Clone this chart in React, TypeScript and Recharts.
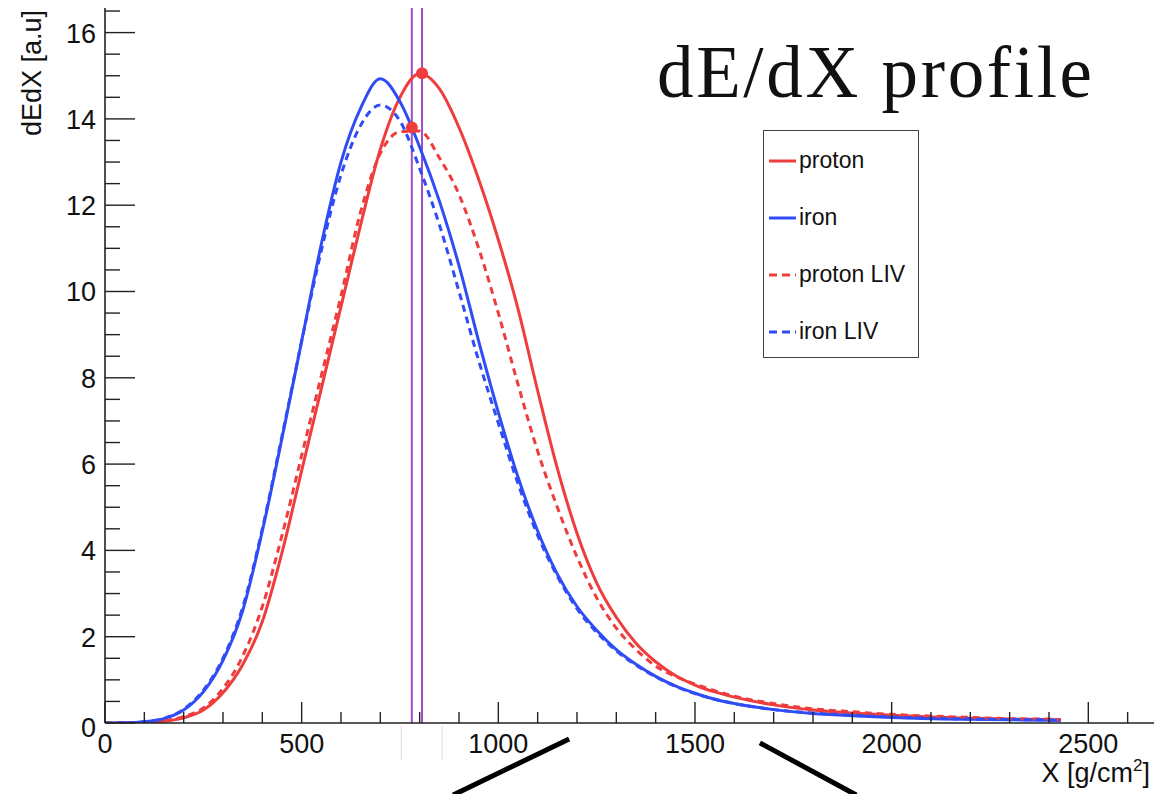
import { LineChart, Line, XAxis, YAxis, ReferenceLine, ReferenceDot, Legend } from "recharts";

// depth X [g/cm^2]
const depth = [
  0, 50, 100, 150, 200, 250, 300, 350, 400, 450, 500, 550, 600, 650, 700, 750, 800, 850, 900, 950,
  1000, 1050, 1100, 1150, 1200, 1250, 1300, 1350, 1400, 1450, 1500, 1550, 1600,
  1700, 1800, 1900, 2000, 2100, 2200, 2300, 2400, 2430,
];

const proton = [
  0, 0, 0.01, 0.04, 0.12, 0.3, 0.7, 1.35, 2.35, 3.95, 5.85, 7.75, 9.65, 11.55, 13.3, 14.5, 15.05, 14.7, 13.8, 12.6,
  11.2, 9.6, 7.7, 5.9, 4.4, 3.25, 2.45, 1.85, 1.42, 1.1, 0.88, 0.72, 0.6,
  0.42, 0.3, 0.23, 0.18, 0.14, 0.11, 0.09, 0.08, 0.07,
];

const iron = [
  0, 0.005, 0.03, 0.1, 0.3, 0.72, 1.45, 2.6, 4.45, 6.6, 8.85, 11.1, 13.0, 14.25, 14.93, 14.4, 13.35, 12.1, 10.6, 8.85,
  7.2, 5.7, 4.45, 3.45, 2.7, 2.15, 1.7, 1.36, 1.08, 0.86, 0.69, 0.55, 0.45,
  0.31, 0.22, 0.17, 0.13, 0.1, 0.085, 0.075, 0.065, 0.06,
];

const protonLIV = [
  0, 0, 0.01, 0.05, 0.15, 0.35, 0.8, 1.55, 2.7, 4.35, 6.2, 8.05, 9.9, 11.85, 13.2, 13.7, 13.72, 13.1, 12.25, 11.0,
  9.5, 7.85, 6.3, 5.0, 3.85, 2.9, 2.2, 1.7, 1.32, 1.08, 0.9, 0.75, 0.62,
  0.45, 0.33, 0.26, 0.2, 0.16, 0.13, 0.1, 0.09, 0.08,
];

const ironLIV = [
  0, 0.005, 0.03, 0.11, 0.32, 0.76, 1.5, 2.68, 4.5, 6.65, 8.85, 10.95, 12.7, 13.85, 14.32, 13.95, 12.85, 11.55, 10.0, 8.4,
  6.95, 5.55, 4.35, 3.4, 2.65, 2.1, 1.67, 1.34, 1.07, 0.85, 0.68, 0.55, 0.45,
  0.31, 0.23, 0.18, 0.14, 0.11, 0.09, 0.08, 0.07, 0.06,
];

// Xmax markers
const xmaxProton = 806;
const xmaxProtonLIV = 780;
const peakProton = 15.06;
const peakProtonLIV = 13.8;

const legendOrder = ["proton", "iron", "proton LIV", "iron LIV"];
const xTicks = Array.from({ length: 27 }, (_, i) => i * 100);
const yTicks = Array.from({ length: 34 }, (_, i) => i * 0.5);

const RED = "#ef3d3d";
const BLUE = "#2f4cf6";
const PURPLE = "#9b4dca";
const SANS = "'Liberation Sans', Arial, Helvetica, sans-serif";

const data = depth.map((x, i) => ({
  x,
  proton: proton[i],
  iron: iron[i],
  protonLIV: protonLIV[i],
  ironLIV: ironLIV[i],
}));

function XTick({ x, y, payload }: any) {
  const v = payload.value;
  const major = v % 500 === 0;
  return (
    <g>
      <line x1={x} x2={x} y1={y} y2={y - (major ? 21 : 11)} stroke="#222" strokeWidth={1.4} />
      {major && (
        <text x={x} y={y + 30} textAnchor="middle" fontFamily={SANS} fontSize={27} fill="#111">
          {v}
        </text>
      )}
    </g>
  );
}

function YTick({ x, y, payload }: any) {
  const v = payload.value;
  const major = Math.abs(v % 2) < 1e-6;
  return (
    <g>
      <line x1={x} x2={x + (major ? 30 : 15)} y1={y} y2={y} stroke="#222" strokeWidth={1.4} />
      {major && (
        <text x={x - 9} y={y + (v === 0 ? 14 : 10)} textAnchor="end" fontFamily={SANS} fontSize={27} fill="#111">
          {v}
        </text>
      )}
    </g>
  );
}

function LegendBox({ payload }: any) {
  const items = [...(payload || [])].sort(
    (a: any, b: any) => legendOrder.indexOf(a.value) - legendOrder.indexOf(b.value)
  );
  return (
    <div
      style={{
        width: 156,
        height: 228,
        boxSizing: "border-box",
        border: "1.5px solid #444",
        background: "#fff",
        fontFamily: SANS,
        fontSize: 23,
        color: "#111",
        paddingTop: 1,
      }}
    >
      {items.map((p: any) => (
        <div key={p.value} style={{ display: "flex", alignItems: "center", height: 57 }}>
          <svg width={36} height={10} style={{ marginLeft: 4 }}>
            <line
              x1={1}
              x2={28}
              y1={5}
              y2={5}
              stroke={p.color}
              strokeWidth={3}
              strokeDasharray={p.payload?.strokeDasharray ? "8 5" : undefined}
            />
          </svg>
          <span style={{ marginLeft: -5 }}>{p.value}</span>
        </div>
      ))}
    </div>
  );
}

export default function App() {
  return (
    <div style={{ position: "absolute", left: 0, top: 0, width: 1157, height: 794, background: "#fff" }}>
      <LineChart width={1157} height={794} data={data} margin={{ top: 8, right: 3, bottom: 0, left: 0 }}>
        <XAxis
          dataKey="x"
          type="number"
          domain={[0, 2667]}
          ticks={xTicks}
          interval={0}
          tick={<XTick />}
          tickSize={0}
          tickMargin={0}
          tickLine={false}
          height={71}
          allowDataOverflow
          axisLine={{ stroke: "#222", strokeWidth: 1.6 }}
          label={(props: any) => {
            const vb = props.viewBox;
            return (
              <text x={vb.x + vb.width - 4} y={vb.y + 59} textAnchor="end" fontFamily={SANS} fontSize={27} fill="#111">
                X [g/cm
                <tspan dy={-11} fontSize={17}>2</tspan>
                <tspan dy={11}>]</tspan>
              </text>
            );
          }}
        />
        <XAxis xAxisId="top" orientation="top" type="number" domain={[0, 2667]} height={0} tick={false} tickLine={false} axisLine={{ stroke: "#333", strokeWidth: 1.6 }} />
        <YAxis
          type="number"
          domain={[0, 16.57]}
          ticks={yTicks}
          interval={0}
          tick={<YTick />}
          tickSize={0}
          tickMargin={0}
          tickLine={false}
          width={105}
          allowDataOverflow
          axisLine={{ stroke: "#222", strokeWidth: 1.6 }}
          label={(props: any) => {
            const vb = props.viewBox;
            return (
              <text
                transform="rotate(-90)"
                x={-(vb.y + 2)}
                y={41}
                textAnchor="end"
                fontFamily={SANS}
                fontSize={27}
                fill="#111"
              >
                dEdX [a.u]
              </text>
            );
          }}
        />
        <YAxis yAxisId="right" orientation="right" type="number" domain={[0, 16.57]} width={0} tick={false} tickLine={false} axisLine={{ stroke: "#333", strokeWidth: 1.6 }} />

        <ReferenceLine x={xmaxProtonLIV} stroke={PURPLE} strokeWidth={2} />
        <ReferenceLine x={xmaxProton} stroke={PURPLE} strokeWidth={2} />
        <ReferenceLine segment={[{ x: 753, y: -0.07 }, { x: 753, y: -0.87 }]} stroke="#ecd0ee" strokeWidth={1} ifOverflow="visible" />
        <ReferenceLine segment={[{ x: 857, y: -0.07 }, { x: 857, y: -0.87 }]} stroke="#ecd0ee" strokeWidth={1} ifOverflow="visible" />

        <Line type="monotone" dataKey="proton" name="proton" stroke={RED} strokeWidth={3} dot={false} activeDot={false} isAnimationActive={false} />
        <Line type="monotone" dataKey="iron" name="iron" stroke={BLUE} strokeWidth={3} dot={false} activeDot={false} isAnimationActive={false} />
        <Line type="monotone" dataKey="protonLIV" name="proton LIV" stroke={RED} strokeWidth={3} strokeDasharray="7 5" dot={false} activeDot={false} isAnimationActive={false} />
        <Line type="monotone" dataKey="ironLIV" name="iron LIV" stroke={BLUE} strokeWidth={3} strokeDasharray="7 5" dot={false} activeDot={false} isAnimationActive={false} />

        <ReferenceDot x={xmaxProton} y={peakProton} r={6} fill={RED} stroke="none" />
        <ReferenceDot x={xmaxProtonLIV} y={peakProtonLIV} r={6} fill={RED} stroke="none" />

        {/* black zoom-indicator strokes below the axis */}
        <ReferenceLine segment={[{ x: 885, y: -1.67 }, { x: 1180, y: -0.37 }]} stroke="#000" strokeWidth={5} ifOverflow="visible" />
        <ReferenceLine segment={[{ x: 1665, y: -0.46 }, { x: 1910, y: -1.67 }]} stroke="#000" strokeWidth={5} ifOverflow="visible" />

        <Legend
          layout="vertical"
          align="center"
          verticalAlign="middle"
          content={<LegendBox />}
          wrapperStyle={{ left: 763, top: 130, width: 156, height: 228 }}
        />
      </LineChart>
      <svg width={1157} height={794} style={{ position: "absolute", left: 0, top: 0, pointerEvents: "none" }}>
        <text
          x={657}
          y={97}
          fontFamily="'Liberation Serif', 'Times New Roman', serif"
          fontSize={73}
          textLength={435}
          lengthAdjust="spacing"
          fill="#111"
        >
          dE/dX profile
        </text>
      </svg>
    </div>
  );
}
